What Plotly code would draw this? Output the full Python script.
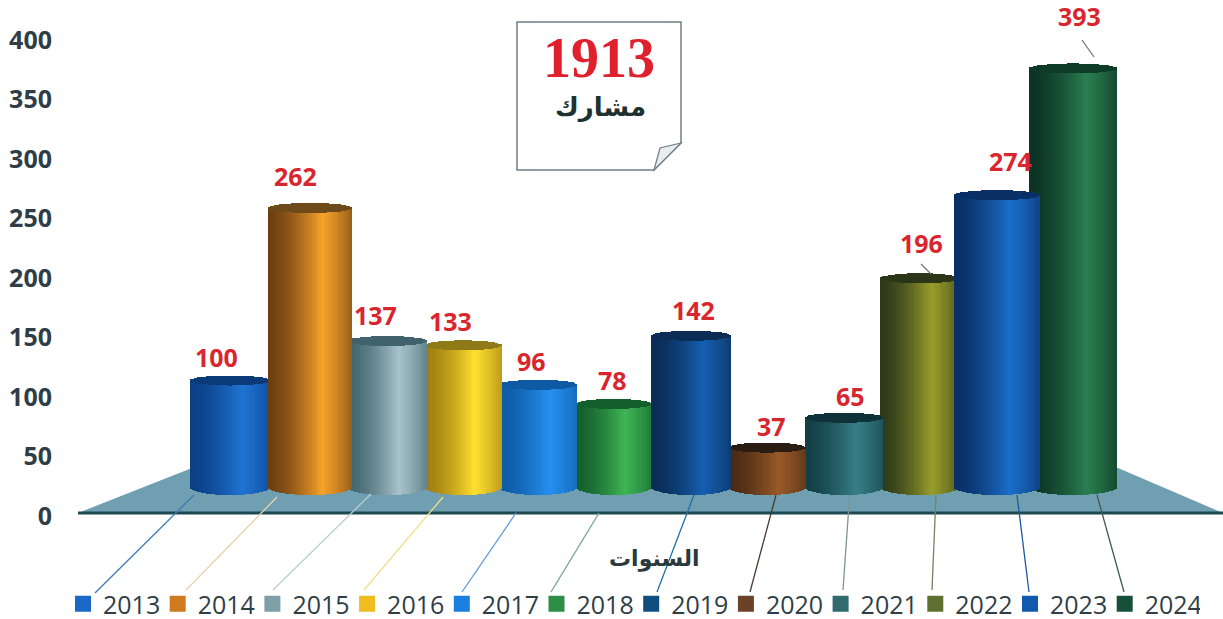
import numpy as np
import plotly.graph_objects as go

years = ["2013","2014","2015","2016","2017","2018","2019","2020","2021","2022","2023","2024"]
values = [100,262,137,133,96,78,142,37,65,196,274,393]
total_value = "1913"
total_label = "مشارك"
axis_title = "السنوات"
y_ticks = [0,50,100,150,200,250,300,350,400]

# dark, light colour of each cylinder, and legend/cap/leader colours
dark  = ["#0b3f86","#6d3f10","#40656f","#a07d10","#0f5aa5","#14602c","#0a2c55","#4a2a14","#133f45","#2e3a1a","#0a2f66","#0c3323"]
light = ["#2074d4","#f8a32b","#a9c3cc","#ffe030","#2590f0","#3fb555","#1560b0","#9a5a2a","#377f88","#9a9e2a","#1a70cc","#2a7f50"]
swatch= ["#1b68c8","#d07a20","#7f9fa8","#f0bc20","#1b7fe0","#2c8f45","#104e80","#6a4228","#2f6b6f","#5f7030","#1159ac","#17503a"]
cap   = ["#0a3a78","#6e4a18","#3f626c","#8f7a18","#0f5aa5","#14602c","#0a2c55","#2a1c12","#0f3238","#2b3518","#0a2f66","#0e3a28"]
lead  = ["#3a7ab8","#e5d3b0","#b9cdd3","#efe08a","#5d9bd8","#6fa58a","#1f6fa8","#4a3a30","#7f9496","#7a8060","#1b5a98","#3f5a50"]
bar_w_px = [80,84,80,77,78,75,79,77,78,79,85,87]
bar_c_px = [230,310,387,463,538,614,691,767,844,920,997,1073]
label_dx = [-14,-11,-8,-9,-5,-1,4,5,8,2,14,7]
label_dy = [0,8,2,0,0,0,2,-2,-2,11,10,28]
draw_order = [11,9,8,7,5,4,3,0,2,1,6,10]
leader_top = [(194,495),(277,497),(375,490),(443,497),(516,513),(599,513),(694,495),(776,495),(850,490),(936,495),(1017,495),(1097,495)]
leader_end = [(95,593),(186,590),(273,590),(364,590),(462,592),(551,592),(657,592),(750,592),(843,590),(932,590),(1029,592),(1124,592)]

W, H = 1223, 619
ML = 60
STEP = 76.6
X0 = 230
PX_PER_UNIT = 1.065     # cylinders are drawn in perspective, on a hidden axis
Y2_BASE_PX = 487
CAP_PX = 5
BASE_PX = 8
N = 44

def hexrgb(h): return np.array([int(h[i:i+2],16) for i in (1,3,5)],float)
def mix(a,b,t):
    c = hexrgb(a)*(1-t)+hexrgb(b)*t
    return "rgb(%d,%d,%d)"%tuple(c)

def shade(t):
    p = 0.3
    return ((t+1)/(p+1))**1.5 if t<p else 0.3+0.7*((1-t)/(1-p))**0.8

fig = go.Figure()
cap_u = CAP_PX/PX_PER_UNIT
base_u = BASE_PX/PX_PER_UNIT
for i in draw_order:
    w = bar_w_px[i]/STEP
    ts = (np.arange(N)+0.5)/N*2-1
    xs = (bar_c_px[i]-X0)/STEP + ts*w/2
    round_ = np.sqrt(1-ts**2)
    colors = [mix(dark[i],light[i],shade(t)) for t in ts]
    fig.add_trace(go.Bar(x=xs, y=values[i]+base_u*round_, base=-base_u*round_,
                         width=w/N*1.15, marker=dict(color=colors,line_width=0),
                         yaxis="y2", showlegend=False, hoverinfo="skip"))
    fig.add_trace(go.Bar(x=xs, y=2*cap_u*round_, base=values[i]-cap_u*round_,
                         width=w/N*1.15, marker=dict(color=cap[i],line_width=0),
                         yaxis="y2", showlegend=False, hoverinfo="skip"))

for i,yr in enumerate(years):
    fig.add_trace(go.Scatter(x=[None],y=[None],mode="markers",name=yr,
                             marker=dict(symbol="square",size=16,color=swatch[i])))
fig.add_trace(go.Scatter(x=[0],y=[0],mode="markers",marker=dict(opacity=0),showlegend=False,hoverinfo="skip"))

def px(x): return (x-ML)/(W-ML)
def py(y): return 1-y/H

shapes = [
    dict(type="path",xref="paper",yref="paper",layer="below",line_width=0,fillcolor="#6f9fb0",
         path=f"M {px(78)} {py(513)} L {px(192)} {py(468)} L {px(1118)} {py(468)} L {px(1223)} {py(513)} Z"),
    dict(type="line",xref="paper",yref="paper",layer="below",x0=px(78),x1=px(1223),y0=py(513),y1=py(513),
         line=dict(color="#1d4a52",width=3)),
    dict(type="path",xref="paper",yref="paper",layer="above",fillcolor="white",line=dict(color="#6f7f85",width=1.5),
         path=f"M {px(517)} {py(22)} L {px(681)} {py(22)} L {px(681)} {py(143)} L {px(654)} {py(170)} L {px(517)} {py(170)} Z"),
    dict(type="path",xref="paper",yref="paper",layer="above",fillcolor="#e8eeee",line=dict(color="#6f7f85",width=1.2),
         path=f"M {px(654)} {py(170)} L {px(660)} {py(148)} L {px(681)} {py(143)} Z"),
]
for i in range(12):
    (x0,y0),(x1,y1) = leader_top[i],leader_end[i]
    shapes.append(dict(type="line",xref="paper",yref="paper",layer="below",
                       x0=px(x0),y0=py(y0),x1=px(x1),y1=py(y1),line=dict(color=lead[i],width=1.3)))
for a,b in [((1082,40),(1094,57)),((921,264),(931,274))]:
    shapes.append(dict(type="line",xref="paper",yref="paper",x0=px(a[0]),y0=py(a[1]),x1=px(b[0]),y1=py(b[1]),
                       line=dict(color="#6b7a7a",width=1.3)))

ann = []
for i,v in enumerate(values):
    ann.append(dict(x=i,y=v,xref="x",yref="y2",text=str(v),showarrow=False,
                    xshift=label_dx[i],yshift=label_dy[i]+24,
                    font=dict(family="Open Sans",size=25,color="#d9262e",weight=700)))
ann += [
    dict(x=px(599),y=py(58),xref="paper",yref="paper",text=total_value,showarrow=False,xanchor="center",yanchor="middle",
         font=dict(family="Liberation Serif",size=56,color="#e0202c",weight=700)),
    dict(x=px(600),y=py(107),xref="paper",yref="paper",text=total_label,showarrow=False,xanchor="center",yanchor="middle",
         font=dict(family="DejaVu Sans",size=26,color="#1d3230",weight=700)),
    dict(x=px(654),y=py(559),xref="paper",yref="paper",text=axis_title,showarrow=False,xanchor="center",yanchor="middle",
         font=dict(family="DejaVu Sans",size=22,color="#2a3a3c",weight=700)),
]

fig.update_layout(
    width=W,height=H,margin=dict(l=ML,r=0,t=0,b=0,autoexpand=False),
    paper_bgcolor="white",plot_bgcolor="rgba(0,0,0,0)",barmode="overlay",bargap=0,
    xaxis=dict(range=[(ML-X0)/STEP,(W-X0)/STEP],visible=False,fixedrange=True),
    yaxis=dict(range=[-(H-516)*400/476,516*400/476],tickvals=y_ticks,showgrid=False,zeroline=False,
               ticks="",showline=False,ticklabelstandoff=7,automargin=False,
               tickfont=dict(family="Open Sans",size=25,color="#2f3e46",weight=700)),
    yaxis2=dict(overlaying="y",range=[-(H-Y2_BASE_PX)/PX_PER_UNIT,Y2_BASE_PX/PX_PER_UNIT],visible=False),
    shapes=shapes,annotations=ann,
    legend=dict(orientation="h",x=px(63),xanchor="left",y=py(604),yanchor="middle",
                font=dict(family="Open Sans",size=25,color="#2f3e46"),
                entrywidth=49.7,entrywidthmode="pixels",itemsizing="trace",
                tracegroupgap=0,bgcolor="rgba(0,0,0,0)"),
)
fig.write_html("out.html", post_script="document.body.style.margin='0';", config={"displayModeBar":False})
